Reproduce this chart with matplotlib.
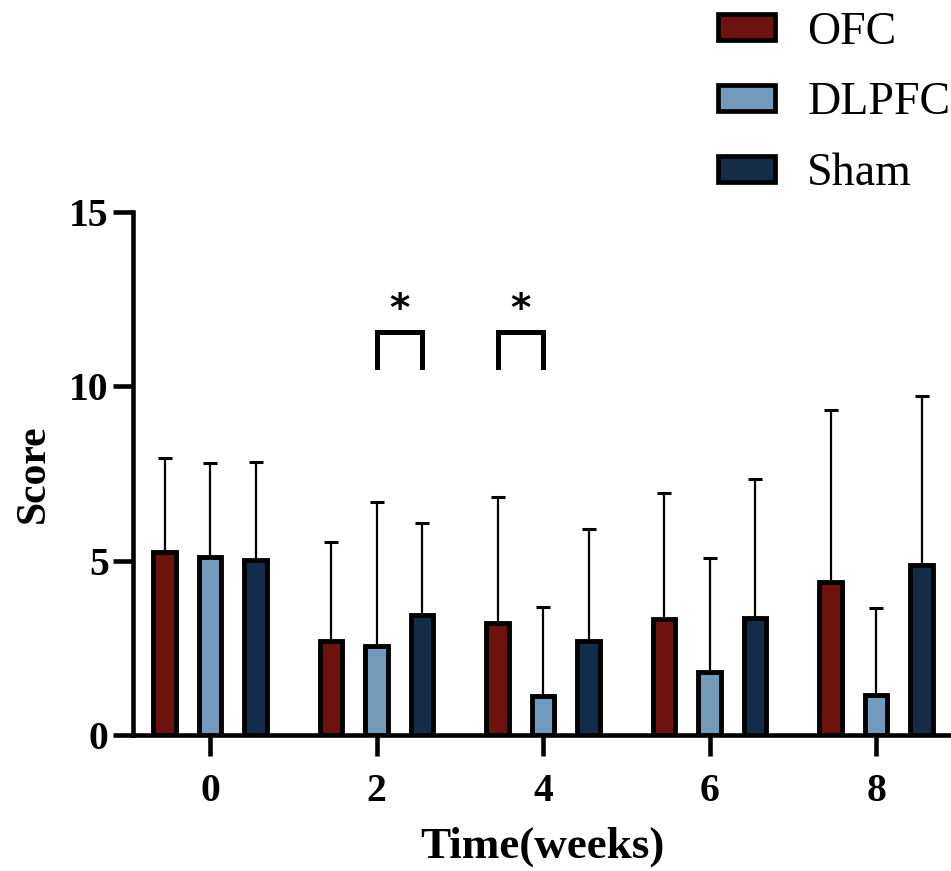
import matplotlib
matplotlib.use("Agg")
import matplotlib.pyplot as plt
import numpy as np
from matplotlib.patches import Patch

# group means and SD (upper error only)
weeks = [0, 2, 4, 6, 8]
groups = ["OFC", "DLPFC", "Sham"]
ofc_mean = [5.25, 2.69, 3.20, 3.33, 4.40]
ofc_sd = [2.70, 2.86, 3.63, 3.60, 4.91]
dlpfc_mean = [5.12, 2.56, 1.13, 1.81, 1.16]
dlpfc_sd = [2.68, 4.12, 2.55, 3.28, 2.49]
sham_mean = [5.02, 3.43, 2.71, 3.35, 4.89]
sham_sd = [2.81, 2.66, 3.20, 3.99, 4.83]
colors = ["#6e120d", "#7399bb", "#132d48"]

# significant pairs: (week, group a, group b)
sig_pairs = [(2, "DLPFC", "Sham"), (4, "OFC", "DLPFC")]
bracket_low, bracket_high, star_y = 10.55, 11.56, 12.2

serif = "Liberation Serif"
fig = plt.figure(figsize=(9.51, 8.71), dpi=100)
ax = fig.add_axes([0.1399, 0.1561, 0.8601, 0.6005])

means = [ofc_mean, dlpfc_mean, sham_mean]
sds = [ofc_sd, dlpfc_sd, sham_sd]
offset = 0.547
width = 0.27
x = np.array(weeks, dtype=float)

for i, (m, s, c) in enumerate(zip(means, sds, colors)):
    pos = x + (i - 1) * offset
    ax.errorbar(pos, m, yerr=[np.zeros(len(m)), s], fmt="none", ecolor="black",
                elinewidth=1.6, capsize=5, capthick=2.2, zorder=2)
    ax.bar(pos, m, width=width, color=c, edgecolor="black", linewidth=3.5, zorder=3)

# significance brackets
for wk, a, b in sig_pairs:
    xa = wk + (groups.index(a) - 1) * offset
    xb = wk + (groups.index(b) - 1) * offset
    ax.plot([xa, xa, xb, xb], [bracket_low, bracket_high, bracket_high, bracket_low],
            color="black", lw=3.6, solid_joinstyle="miter", zorder=4)
    ax.text((xa + xb) / 2, star_y, "*", ha="center", va="center",
            fontsize=28, fontweight="bold", family="DejaVu Sans")

ax.set_xlim(-0.925, 8.9)
ax.set_ylim(0, 15)
ax.set_yticks([0, 5, 10, 15])
ax.set_xticks(weeks)
for sp in ["top", "right"]:
    ax.spines[sp].set_visible(False)
for sp in ["left", "bottom"]:
    ax.spines[sp].set_linewidth(3.3)
ax.tick_params(axis="y", length=14.5, width=3.3, pad=3)
ax.tick_params(axis="x", length=15, width=3.3, pad=12)
for lab in ax.get_xticklabels() + ax.get_yticklabels():
    lab.set_fontfamily(serif)
    lab.set_fontweight("bold")
    lab.set_fontsize(28.5)

ax.set_xlabel("Time(weeks)", family=serif, fontweight="bold", fontsize=32.5, labelpad=12)
ax.set_ylabel("Score", family=serif, fontweight="bold", fontsize=30, labelpad=12)

handles = [Patch(facecolor=c, edgecolor="black", linewidth=3.4) for c in colors]
fig.legend(handles, groups, loc="upper left",
           bbox_to_anchor=(718 / 951, 1 - 11 / 871), bbox_transform=fig.transFigure,
           frameon=False, prop={"family": serif, "size": 33},
           handlelength=1.25, handleheight=0.5, handletextpad=0.7,
           labelspacing=0.62, borderpad=0, borderaxespad=0)

fig.savefig("out.png", dpi=100)
